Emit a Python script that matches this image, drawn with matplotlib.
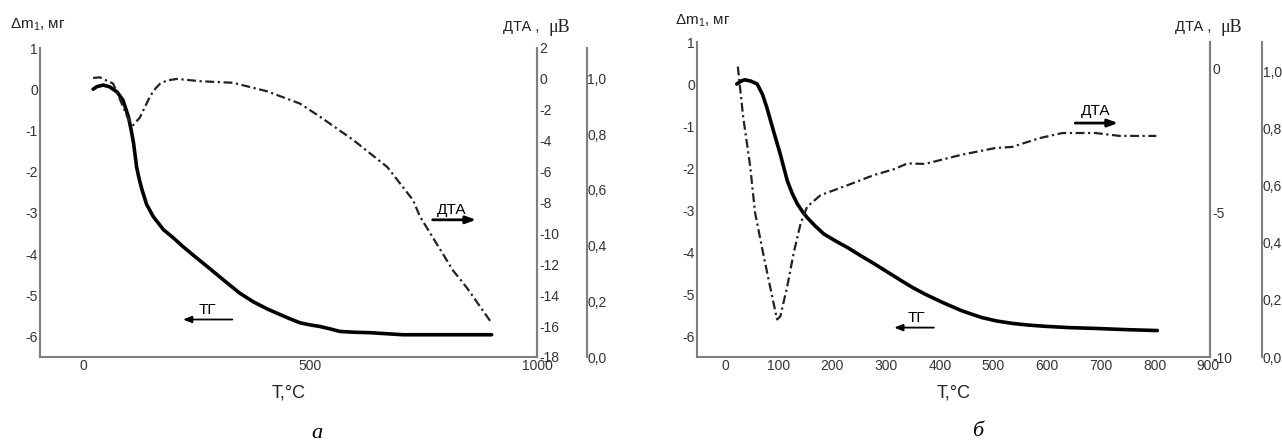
import numpy as np
from matplotlib import pyplot as plt

plt.rcParams['font.family'] = ['Liberation Sans', 'DejaVu Sans']
plt.rcParams['axes.unicode_minus'] = False
plt.rcParams['mathtext.fontset'] = 'custom'
plt.rcParams['mathtext.rm'] = 'Liberation Sans'

# --- panel a: TG (mg) and DTA (uV) vs T ---
tg_a_T = [22, 30, 44, 58, 75, 88, 100, 106, 111, 118, 124, 130, 140, 155, 177, 200, 220, 245, 273, 295, 317,
          345, 375, 405, 434, 455, 478, 500, 522, 545, 566, 600, 632, 705, 800, 900]
tg_a = [0.0, 0.06, 0.1, 0.06, -0.07, -0.27, -0.68, -1.0, -1.3, -1.9, -2.2, -2.45, -2.8, -3.1, -3.41, -3.62,
        -3.82, -4.05, -4.3, -4.5, -4.7, -4.95, -5.16, -5.33, -5.47, -5.57, -5.67, -5.72, -5.76, -5.82, -5.88,
        -5.9, -5.91, -5.96, -5.96, -5.96]
dta_a_T = [22, 37, 66, 88, 98, 110, 125, 148, 160, 170, 185, 207, 258, 330, 405, 478, 522, 595, 670, 727, 742,
           815, 845, 900]
dta_a = [0.06, 0.1, -0.3, -1.8, -2.5, -3.0, -2.5, -1.1, -0.6, -0.3, -0.1, 0.0, -0.15, -0.25, -0.8, -1.6,
         -2.45, -3.95, -5.7, -7.85, -8.9, -12.4, -13.5, -15.8]

# --- panel b ---
tg_b_T = [22, 30, 37, 48, 60, 70, 78, 90, 103, 116, 125, 135, 145, 153, 168, 184, 205, 229, 253, 278, 303, 328,
          350, 372, 405, 441, 478, 505, 535, 565, 597, 640, 690, 750, 805]
tg_b = [0.0, 0.07, 0.1, 0.07, 0.0, -0.25, -0.56, -1.1, -1.67, -2.3, -2.6, -2.86, -3.05, -3.18, -3.38, -3.57,
        -3.73, -3.9, -4.09, -4.28, -4.48, -4.68, -4.85, -5.0, -5.2, -5.4, -5.56, -5.64, -5.7, -5.74, -5.77,
        -5.8, -5.82, -5.85, -5.87]
dta_b_T = [24, 34, 47, 56, 71, 84, 97, 103, 116, 128, 141, 153, 178, 229, 278, 315, 340, 372, 441, 503, 535,
           585, 628, 690, 735, 803]
dta_b = [0.05, -1.7, -3.4, -5.0, -6.4, -7.56, -8.7, -8.6, -7.56, -6.4, -5.37, -4.8, -4.4, -4.05, -3.7, -3.5,
         -3.3, -3.32, -3.0, -2.77, -2.73, -2.43, -2.25, -2.25, -2.35, -2.35]

tg_ticks = [1, 0, -1, -2, -3, -4, -5, -6]
norm_ticks = [0.0, 0.2, 0.4, 0.6, 0.8, 1.0]
norm_labels = ['0,0', '0,2', '0,4', '0,6', '0,8', '1,0']

W, H = 1282, 444
fig = plt.figure(figsize=(W / 100, H / 100), dpi=100)

spine_c = '#7f7f7f'
txt_c = '#333333'
dash = (0, (4, 1.6, 1, 1.6))


def px(x, y, w, h):
    return [x / W, 1 - (y + h) / H, w / W, h / H]


def style(ax, sides):
    for s in ['left', 'right', 'top', 'bottom']:
        ax.spines[s].set_visible(s in sides)
        ax.spines[s].set_color(spine_c)
        ax.spines[s].set_linewidth(1.5)
    ax.tick_params(length=0, pad=1.5, labelsize=10, colors=txt_c)


def panel(rect, xlim, xticks, tgT, tg, dT, d, dlim, dticks, nlim, sp3):
    ax = fig.add_axes(rect)
    style(ax, ['left', 'bottom', 'right'])
    ax.plot(tgT, tg, color='black', lw=2.6, solid_capstyle='round', solid_joinstyle='round')
    ax.set_xlim(*xlim)
    ax.set_ylim(-6.5, 1.0)
    ax.set_xticks(xticks)
    ax.set_yticks(tg_ticks)
    ax.set_xlabel('T,°C', fontsize=13, labelpad=8, color='#222222')

    ax2 = ax.twinx()
    style(ax2, ['right'])
    ax2.plot(dT, d, color='#222222', lw=1.6, linestyle=dash)
    ax2.set_ylim(*dlim)
    ax2.set_yticks(dticks)
    ax2.set_xlim(*xlim)

    ax3 = ax.twinx()
    style(ax3, ['right'])
    ax3.spines['right'].set_position(('axes', sp3))
    ax3.set_ylim(*nlim)
    ax3.set_yticks(norm_ticks)
    ax3.set_yticklabels(norm_labels)
    ax3.tick_params(pad=0.5)
    return ax, ax2


# panel a
axa, axa2 = panel(px(40, 48, 497, 309), (-95, 1000), [0, 500, 1000], tg_a_T, tg_a, dta_a_T, dta_a,
                  (-18, 2), list(range(2, -19, -2)), (0, 1.11), 1.10)
axa.annotate('', xy=(214, -5.59), xytext=(335, -5.59),
             arrowprops=dict(arrowstyle='-|>,head_length=0.5,head_width=0.2', color='black', lw=1.3))
axa.text(273, -5.35, 'ТГ', ha='center', va='center', fontsize=11)
axa.annotate('', xy=(872, -3.17), xytext=(764, -3.17),
             arrowprops=dict(arrowstyle='-|>,head_length=0.6,head_width=0.22', color='black', lw=2.0))
axa.text(812, -2.93, 'ДТА', ha='center', va='center', fontsize=11)

# panel b
axb, axb2 = panel(px(697, 42, 513, 315), (-52, 903), list(range(0, 901, 100)), tg_b_T, tg_b, dta_b_T, dta_b,
                  (-10, 0.9), [0, -5, -10], (0, 1.105), 1.101)
axb.annotate('', xy=(310, -5.8), xytext=(394, -5.8),
             arrowprops=dict(arrowstyle='-|>,head_length=0.5,head_width=0.2', color='black', lw=1.3))
axb.text(356, -5.56, 'ТГ', ha='center', va='center', fontsize=11)
axb.annotate('', xy=(737, -0.93), xytext=(647, -0.93),
             arrowprops=dict(arrowstyle='-|>,head_length=0.6,head_width=0.22', color='black', lw=2.0))
axb.text(690, -0.64, 'ДТА', ha='center', va='center', fontsize=11)

# axis titles
for x0, y0 in [(10, 25), (675, 21)]:
    fig.text(x0 / W, 1 - y0 / H, 'Δm$_1$, мг', fontsize=11, va='center', ha='left', color='#222222')
for x0, y0 in [(503, 27), (1175, 27)]:
    fig.text(x0 / W, 1 - y0 / H, 'ДТА ,', fontsize=10.5, va='center', ha='left', color='#222222')
    fig.text((x0 + 45) / W, 1 - y0 / H, 'μB', fontsize=13, va='center', ha='left',
             family='Liberation Serif', color='#222222')

fig.text(317 / W, 1 - 433 / H, 'а', fontsize=16, ha='center', va='center',
         family='Liberation Serif', style='italic')
fig.text(978 / W, 1 - 431 / H, 'б', fontsize=16, ha='center', va='center',
         family='Liberation Serif', style='italic')

fig.savefig('out.png', dpi=100)
